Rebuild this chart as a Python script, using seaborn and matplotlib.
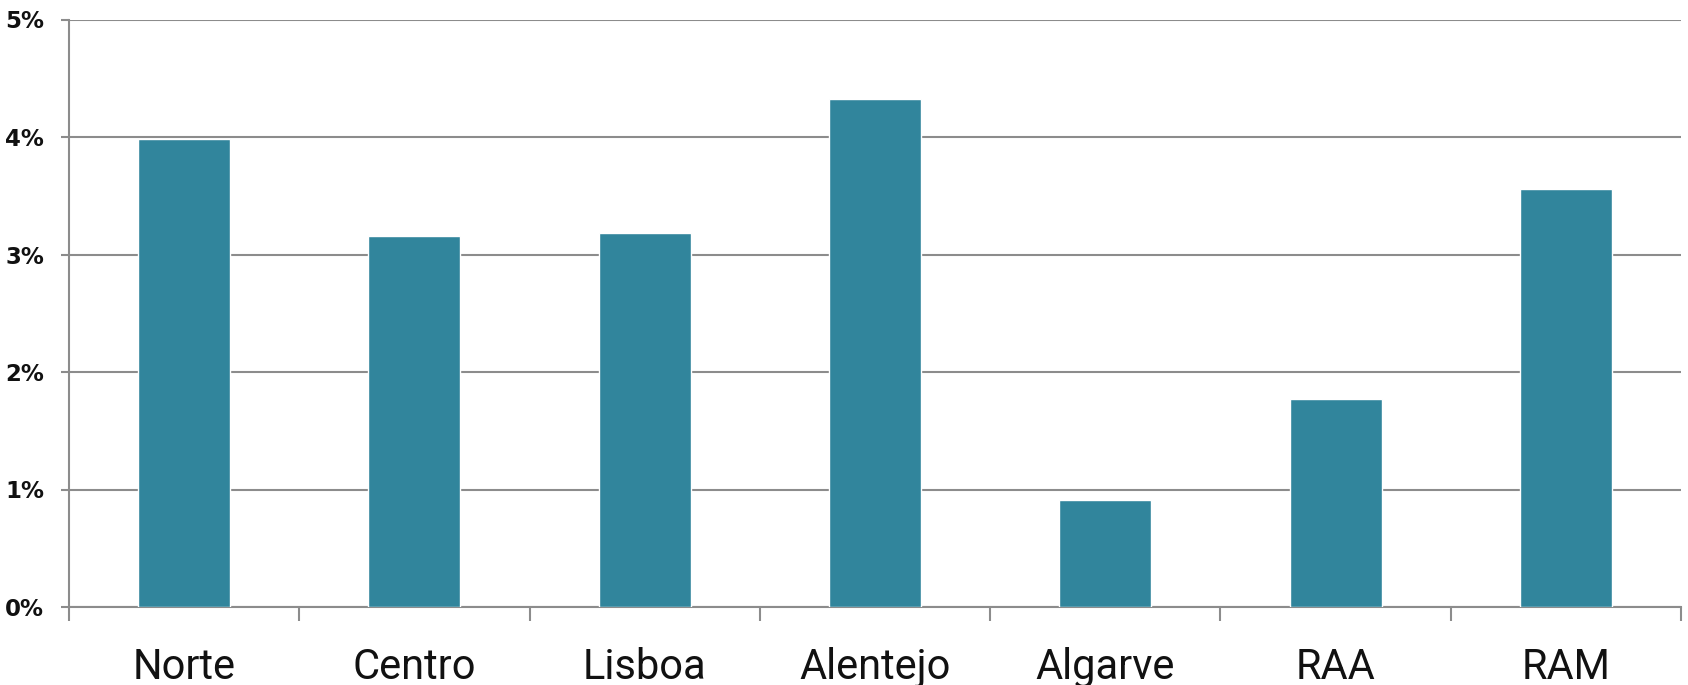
import matplotlib
matplotlib.use("Agg")
import matplotlib.pyplot as plt
import seaborn as sns
import pandas as pd
from matplotlib.ticker import FixedLocator

regions = ["Norte", "Centro", "Lisboa", "Alentejo", "Algarve", "RAA", "RAM"]
values = [3.98, 3.16, 3.18, 4.32, 0.91, 1.77, 3.56]
y_ticks = [0, 1, 2, 3, 4, 5]
y_labels = ["0%", "1%", "2%", "3%", "4%", "5%"]

df = pd.DataFrame({"region": regions, "value": values})

sns.set_theme(style="white")
plt.rcParams['font.family'] = ['DejaVu Sans']

fig = plt.figure(figsize=(16.88, 6.85), dpi=100)
ax = fig.add_axes([69/1688, (685-607)/685, (1681-69)/1688, (607-19.5)/685])

sns.barplot(data=df, x="region", y="value", color="#31859C", width=0.4,
            saturation=1, ax=ax, zorder=3)

grid_c = "#8c8c8c"
ax.set_ylim(0, 5)
ax.set_xlim(-0.5, len(regions) - 0.5)
ax.set_yticks(y_ticks)
ax.set_yticklabels(y_labels, fontsize=16.5, fontweight="bold", color="#111111")
ax.yaxis.grid(True, color=grid_c, linewidth=1.5)
ax.set_axisbelow(True)

for s in ["top", "right"]:
    ax.spines[s].set_visible(False)
for s in ["left", "bottom"]:
    ax.spines[s].set_visible(True)
    ax.spines[s].set_color(grid_c)
    ax.spines[s].set_linewidth(1.5)

ax.tick_params(axis="y", which="major", left=True, direction="out", length=6,
               width=1.5, color=grid_c, pad=12)
ax.tick_params(axis="x", which="major", bottom=False, length=0, pad=29)
ax.xaxis.set_minor_locator(FixedLocator([i - 0.5 for i in range(len(regions) + 1)]))
ax.tick_params(axis="x", which="minor", bottom=True, direction="out", length=10,
               width=1.5, color=grid_c)
for lbl in ax.get_xticklabels():
    lbl.set_fontfamily("Roboto")
    lbl.set_fontsize(30)
    lbl.set_color("#111111")

ax.set_xlabel("")
ax.set_ylabel("")

fig.savefig("out.png", dpi=100)
